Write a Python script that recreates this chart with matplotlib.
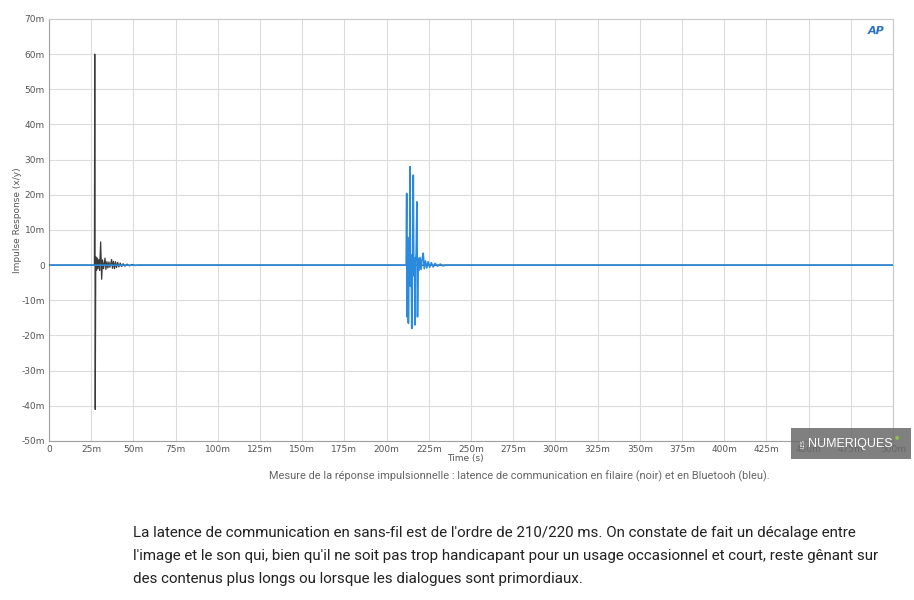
import matplotlib
matplotlib.use("Agg")
import matplotlib.pyplot as plt
from matplotlib.patches import Rectangle

# Données (temps en ms, réponse en milli-unités)
filaire_t = [0, 26.9, 27.1, 27.4, 27.7, 28.2, 28.6, 29.0, 29.5, 30.0, 30.6, 31.2,
             31.7, 32.3, 33.2, 33.7, 34.3, 34.9, 35.5, 36.1, 37.1, 37.6, 38.2,
             38.8, 39.4, 40.0, 40.7, 41.4, 42.2, 43.0, 43.9, 45.0, 46.2, 47.6,
             49.2, 51.0, 53.0, 500]
filaire_v = [0, 0, 60, -41, 2.4, -1.5, 2.0, -1.0, 1.6, -1.5, 6.6, -4.0,
             1.5, -1.0, 2.0, -1.2, 1.0, -0.8, 0.9, -0.6, 1.6, -0.9, 1.1,
             -1.0, 1.0, -0.7, 0.8, -0.5, 0.6, -0.4, 0.4, -0.3, 0.3, -0.2,
             0.2, -0.1, 0, 0]

bluetooth_t = [0, 211.6, 211.9, 212.1, 212.4, 212.7, 212.9, 213.3, 213.6, 213.9,
               214.2, 214.6, 214.9, 215.2, 215.5, 215.8, 216.1, 216.5, 216.8,
               217.1, 217.5, 218.0, 218.3, 218.7, 219.2, 219.8, 220.4, 221.0,
               221.7, 222.3, 223.0, 223.8, 224.6, 225.5, 226.5, 227.6, 228.8,
               230.2, 231.8, 233.4, 235.0, 500]
bluetooth_v = [0, 0, 20.4, -14.7, 8.0, 5.2, -16.5, 4.0, -2.0, 28.0,
               -6.0, 2.0, -18.0, 3.0, -2.0, 25.6, -3.0, 2.0, -17.0,
               1.0, 3.0, 18.0, -14.7, 2.0, -1.5, 2.2, -1.2, 1.6,
               3.4, -1.0, 1.2, -0.8, 1.0, -0.6, 0.7, -0.5, 0.5,
               -0.3, 0.3, -0.2, 0, 0]

x_ticks = list(range(0, 501, 25))
y_ticks = list(range(-50, 71, 10))

legende = ("Mesure de la réponse impulsionnelle : latence de communication "
           "en filaire (noir) et en Bluetooh (bleu).")
paragraphe = [
    "La latence de communication en sans-fil est de l'ordre de 210/220 ms. "
    "On constate de fait un décalage entre",
    "l'image et le son qui, bien qu'il ne soit pas trop handicapant pour un "
    "usage occasionnel et court, reste gênant sur",
    "des contenus plus longs ou lorsque les dialogues sont primordiaux.",
]


def fmt(v):
    return "0" if v == 0 else f"{v}m"


W, H = 914, 600
fig = plt.figure(figsize=(W / 100, H / 100), dpi=100)
fig.patch.set_facecolor("white")

ax = fig.add_axes([49 / W, 1 - 441 / H, 844 / W, 422 / H])
ax.plot(filaire_t, filaire_v, color="#3a3a3a", linewidth=0.9, zorder=3)
ax.plot(bluetooth_t, bluetooth_v, color="#2a8ade", linewidth=1.2, zorder=4)

ax.set_xlim(0, 500)
ax.set_ylim(-50, 70)
ax.set_xticks(x_ticks)
ax.set_xticklabels([fmt(v) for v in x_ticks])
ax.set_yticks(y_ticks)
ax.set_yticklabels([fmt(v) for v in y_ticks])
ax.tick_params(length=0, labelsize=6.5, labelcolor="#555555", pad=3)
ax.grid(True, color="#dcdcdc", linewidth=0.8)
ax.set_axisbelow(True)
for side in ["left", "bottom"]:
    ax.spines[side].set_color("#a0a0a0")
for side in ["top", "right"]:
    ax.spines[side].set_color("#c8c8c8")

fig.text(465 / W, 1 - 459 / H, "Time (s)", fontsize=6.5, color="#555555",
         ha="center", va="center")
fig.text(18 / W, 1 - 220 / H, "Impulse Response (x/y)", fontsize=6.5,
         color="#555555", rotation=90, ha="center", va="center")

# logo AP
fig.text(876 / W, 1 - 31 / H, "AP", fontsize=8, color="#2a70c8",
         fontweight="bold", style="italic", ha="center", va="center")

# filigrane
fig.patches.append(Rectangle((791 / W, 1 - 459 / H), 120 / W, 31 / H,
                             transform=fig.transFigure, facecolor="#6a6a6a",
                             alpha=0.85, edgecolor="none", zorder=10))
fig.text(803 / W, 1 - 444 / H, "LES", fontsize=3.5, color="white",
         rotation=90, ha="center", va="center", zorder=11)
fig.text(808 / W, 1 - 444 / H, "NUMERIQUES", fontsize=9, color="white",
         ha="left", va="center", family="Liberation Sans", zorder=11)
fig.text(897 / W, 1 - 437 / H, "●", fontsize=3.5, color="#8cc63f",
         ha="center", va="center", zorder=11)

fig.text(519 / W, 1 - 476 / H, legende, fontsize=7.9, color="#666666",
         ha="center", va="center", family="Roboto")

for i, ligne in enumerate(paragraphe):
    fig.text(133 / W, 1 - (533 + 23 * i) / H, ligne, fontsize=10.9,
             color="#222222", ha="left", va="center", family="Roboto")

fig.savefig("out.png", dpi=100)
